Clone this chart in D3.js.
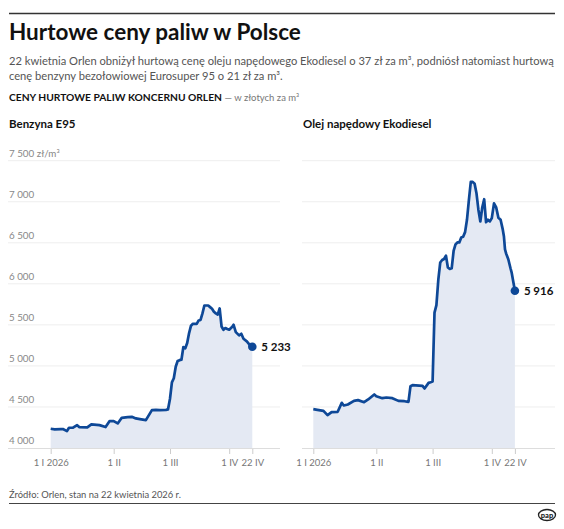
<!DOCTYPE html>
<html lang="pl">
<head>
<meta charset="utf-8">
<script src="https://cdn.jsdelivr.net/npm/d3@7"></script>
<style>
  body { margin: 0; background: #fff; }
  svg { display: block; font-family: Lato, "Noto Sans", sans-serif; }
</style>
</head>
<body>
<div id="container"></div>
<script>
/* DATA */
const benzynaDates = [
  "2026-01-01","2026-01-03","2026-01-06","2026-01-07","2026-01-09","2026-01-10","2026-01-12","2026-01-14",
  "2026-01-15","2026-01-19","2026-01-21","2026-01-25","2026-01-28","2026-01-30","2026-02-01","2026-02-03",
  "2026-02-05","2026-02-08","2026-02-10","2026-02-12","2026-02-14","2026-02-17","2026-02-20","2026-02-22",
  "2026-02-24","2026-02-27","2026-02-28","2026-03-01","2026-03-02","2026-03-03","2026-03-04","2026-03-05",
  "2026-03-06","2026-03-07","2026-03-08","2026-03-09","2026-03-10","2026-03-11","2026-03-12","2026-03-13",
  "2026-03-15","2026-03-16","2026-03-17","2026-03-18","2026-03-19","2026-03-21","2026-03-22","2026-03-23",
  "2026-03-24","2026-03-25","2026-03-26","2026-03-27","2026-03-28","2026-03-29","2026-03-30","2026-03-31",
  "2026-04-01","2026-04-04","2026-04-05","2026-04-07","2026-04-10","2026-04-12","2026-04-14","2026-04-17",
  "2026-04-20","2026-04-22"
];
const benzynaValues = [
  4235, 4227, 4231, 4231, 4206, 4247, 4247, 4279,
  4255, 4251, 4287, 4279, 4255, 4328, 4328, 4299,
  4368, 4376, 4380, 4360, 4352, 4340, 4461, 4465,
  4461, 4465, 4470, 4600, 4800, 4850, 4990, 5060,
  5070, 5076, 5230, 5215, 5280, 5400, 5490, 5513,
  5513, 5554, 5560, 5640, 5736, 5736, 5716, 5696,
  5660, 5640, 5625, 5700, 5480, 5440, 5461, 5450,
  5441, 5480, 5501, 5412, 5372, 5392, 5331, 5299,
  5250, 5233
];

const dieselDates = [
  "2026-01-01","2026-01-03","2026-01-06","2026-01-08","2026-01-10","2026-01-13","2026-01-15","2026-01-16",
  "2026-01-18","2026-01-21","2026-01-23","2026-01-26","2026-01-28","2026-01-31","2026-02-01","2026-02-04",
  "2026-02-06","2026-02-09","2026-02-12","2026-02-15","2026-02-17","2026-02-18","2026-02-19","2026-02-24",
  "2026-02-25","2026-02-27","2026-02-28","2026-03-01","2026-03-02","2026-03-03","2026-03-04","2026-03-05",
  "2026-03-06","2026-03-07","2026-03-08","2026-03-09","2026-03-10","2026-03-11","2026-03-12","2026-03-13",
  "2026-03-14","2026-03-15","2026-03-16","2026-03-17","2026-03-18","2026-03-19","2026-03-20","2026-03-21",
  "2026-03-22","2026-03-23","2026-03-24","2026-03-25","2026-03-26","2026-03-27","2026-03-28","2026-03-29",
  "2026-03-30","2026-03-31","2026-04-01","2026-04-03","2026-04-05","2026-04-07","2026-04-09","2026-04-11",
  "2026-04-12","2026-04-13","2026-04-14","2026-04-16","2026-04-18","2026-04-19","2026-04-22"
];
const dieselValues = [
  4473, 4465, 4453, 4401, 4437, 4441, 4550, 4518,
  4530, 4574, 4583, 4558, 4591, 4652, 4631, 4607,
  4615, 4607, 4574, 4570, 4562, 4753, 4765, 4757,
  4725, 4793, 4801, 4810, 5650, 5740, 6050, 6260,
  6290, 6303, 6343, 6200, 6181, 6189, 6400, 6480,
  6504, 6504, 6565, 6573, 6630, 6780, 7020, 7241,
  7241, 7220, 7100, 6900, 6760, 6930, 7031, 6750,
  6780, 6760, 6800, 6980, 6930, 6805, 6780, 6660,
  6580, 6420, 6370, 6300, 6190, 6140, 5916
];

const yTicks = [4000, 4500, 5000, 5500, 6000, 6500, 7000, 7500];
const xTickDates = ["2026-01-01", "2026-02-01", "2026-03-01", "2026-04-01", "2026-04-22"];
const xTickLabels = ["1 I 2026", "1 II", "1 III", "1 IV", "22 IV"];

/* CONSTANTS AND GLOBALS */
const width = 564,
  height = 529,
  yTop = 160.7,      /* 7 500 gridline */
  yBase = 448,       /* 4 000 baseline */
  tickOffsets = [0, 63, 119.3, 178.5, 201.6], /* month ticks are not evenly spaced in the original */
  lineColor = "#0e4897",
  areaColor = "#e4e9f3";

const parse = d3.timeParse("%Y-%m-%d");
const pl = d3.formatLocale({ decimal: ",", thousands: "\u00a0", grouping: [3], currency: ["", " zł"] });
const fmt = pl.format(",");

/* shrink/grow a text's font size so it spans a given width */
function fitWidth(sel, target) {
  const w = sel.node().getComputedTextLength();
  const fs = parseFloat(sel.style("font-size"));
  sel.style("font-size", (fs * target / w) + "px");
  return fs * target / w;
}

const svg = d3.select("#container")
  .append("svg")
  .attr("width", width)
  .attr("height", height);

/* HEADER */
svg.append("line")
  .attr("x1", 9).attr("x2", 555).attr("y1", 13.5).attr("y2", 13.5)
  .attr("stroke", "#333").attr("stroke-width", 1.6);

const title = svg.append("text")
  .attr("x", 9).attr("y", 40)
  .style("font-size", "24px").style("font-weight", 700).style("fill", "#111")
  .text("Hurtowe ceny paliw w Polsce");
fitWidth(title, 292);

const subtitle = [
  "22 kwietnia Orlen obniżył hurtową cenę oleju napędowego Ekodiesel o 37 zł za m³, podniósł natomiast hurtową",
  "cenę benzyny bezołowiowej Eurosuper 95 o 21 zł za m³."
];
const subs = svg.selectAll(".sub")
  .data(subtitle)
  .join("text")
  .attr("class", "sub")
  .attr("x", 9)
  .attr("y", (d, i) => 64.5 + i * 15)
  .style("font-size", "12.5px").style("fill", "#555")
  .text(d => d);
const subSize = fitWidth(subs.filter((d, i) => i === 0), 545);
subs.style("font-size", subSize + "px");

const hed = svg.append("text").attr("x", 9).attr("y", 101);
const hedBold = hed.append("tspan")
  .style("font-size", "11.5px").style("font-weight", 700).style("fill", "#111")
  .text("CENY HURTOWE PALIW KONCERNU ORLEN");
fitWidth(hedBold, 213);
hed.append("tspan")
  .style("font-size", "9.5px").style("fill", "#777")
  .text(" — w złotych za m³");

/* PANELS */
const panels = [
  { title: "Benzyna E95", titleX: 9, gridX0: 8, gridX1: 280, xStart: 50.7,
    dates: benzynaDates, values: benzynaValues, yLabels: true },
  { title: "Olej napędowy Ekodiesel", titleX: 303, gridX0: 302, gridX1: 555, xStart: 313.3,
    dates: dieselDates, values: dieselValues, yLabels: false }
];

const yScale = d3.scaleLinear()
  .domain([4000, 7500])
  .range([yBase, yTop]);

panels.forEach(p => {
  const g = svg.append("g");

  const xScale = d3.scaleTime()
    .domain(xTickDates.map(parse))
    .range(tickOffsets.map(o => p.xStart + o));

  const data = p.dates.map((d, i) => ({ date: parse(d), value: p.values[i] }));

  g.append("text")
    .attr("x", p.titleX).attr("y", 128)
    .style("font-size", "11.5px").style("font-weight", 700).style("fill", "#111")
    .text(p.title);

  /* gridlines */
  g.selectAll(".grid")
    .data(yTicks.slice(1))
    .join("line")
    .attr("class", "grid")
    .attr("x1", p.gridX0).attr("x2", p.gridX1)
    .attr("y1", d => yScale(d)).attr("y2", d => yScale(d))
    .attr("stroke", "#eeeeee").attr("stroke-width", 1);

  if (p.yLabels) {
    g.selectAll(".ylab")
      .data(yTicks)
      .join("text")
      .attr("class", "ylab")
      .attr("x", 9)
      .attr("y", d => yScale(d) - 4)
      .style("font-size", "9.8px").style("fill", "#888")
      .text((d, i) => i === yTicks.length - 1 ? fmt(d) + " zł/m³" : fmt(d));
  }

  /* area + line */
  g.append("path")
    .datum(data)
    .attr("fill", areaColor)
    .attr("d", d3.area().x(d => xScale(d.date)).y0(yBase).y1(d => yScale(d.value)));

  /* x axis */
  const xAxis = d3.axisBottom(xScale)
    .tickValues(xTickDates.map(parse))
    .tickFormat((d, i) => xTickLabels[i])
    .tickSize(6)
    .tickPadding(5);

  const ax = g.append("g")
    .attr("transform", `translate(0, ${yBase})`)
    .call(xAxis);
  ax.select(".domain").remove();
  ax.selectAll(".tick line").attr("stroke", "#cccccc");
  ax.selectAll(".tick text")
    .style("font-family", "Lato, 'Noto Sans', sans-serif")
    .style("font-size", "9.5px").style("fill", "#777");

  g.append("line")
    .attr("x1", p.gridX0).attr("x2", p.gridX1)
    .attr("y1", yBase + 0.5).attr("y2", yBase + 0.5)
    .attr("stroke", "#dddddd");

  g.append("path")
    .datum(data)
    .attr("fill", "none")
    .attr("stroke", lineColor)
    .attr("stroke-width", 2.7)
    .attr("stroke-linejoin", "round")
    .attr("d", d3.line().x(d => xScale(d.date)).y(d => yScale(d.value)));

  const last = data[data.length - 1];
  g.append("circle")
    .attr("cx", xScale(last.date)).attr("cy", yScale(last.value))
    .attr("r", 4.3).attr("fill", lineColor);

  g.append("text")
    .attr("x", xScale(last.date) + 9).attr("y", yScale(last.value) + 4)
    .style("font-size", "11.5px").style("font-weight", 700).style("fill", "#111")
    .text(fmt(last.value));
});

/* FOOTER */
const source = svg.append("text")
  .attr("x", 9).attr("y", 498)
  .style("font-size", "10px").style("fill", "#555")
  .text("Źródło: Orlen, stan na 22 kwietnia 2026 r.");
fitWidth(source, 172);

svg.append("line")
  .attr("x1", 9).attr("x2", 555).attr("y1", 503.5).attr("y2", 503.5)
  .attr("stroke", "#444").attr("stroke-width", 1.2);

svg.append("ellipse")
  .attr("cx", 547).attr("cy", 515).attr("rx", 8.5).attr("ry", 5.5)
  .attr("fill", "#fff").attr("stroke", "#222").attr("stroke-width", 1.3);
svg.append("text")
  .attr("x", 547).attr("y", 517.5)
  .attr("text-anchor", "middle")
  .style("font-size", "7.5px").style("font-weight", 900).style("fill", "#222")
  .text("pap");
</script>
</body>
</html>
